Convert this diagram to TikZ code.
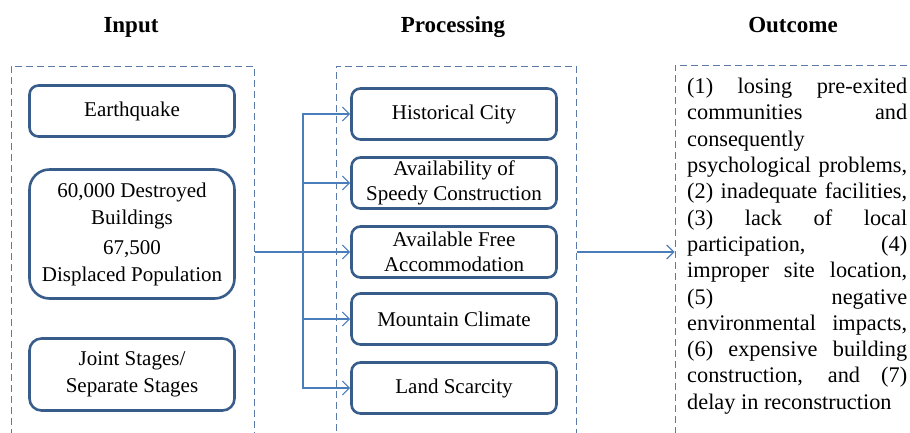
\documentclass[tikz,border=0pt]{standalone}
\usepackage{fontspec}
\setmainfont{Liberation Serif}
\usetikzlibrary{arrows.meta}
\definecolor{boxblue}{RGB}{56,93,138}
\definecolor{linkblue}{RGB}{74,126,187}
\definecolor{frameblue}{RGB}{92,122,166}
\begin{document}
\begin{tikzpicture}[x=1pt,y=-1pt]

    \tikzset{
      frame/.style={
        draw=frameblue,
        dash pattern=on 7pt off 4pt,
        line width=1pt,
        inner sep=0pt,
      },
      box/.style={
        draw=boxblue,
        line width=2.6pt,
        rounded corners=9pt,
        minimum width=205pt,
        minimum height=51pt,
        inner sep=0pt,
        align=center,
        font=\fontsize{21}{25}\selectfont,
      },
      link/.style={
        draw=linkblue,
        line width=1.1pt,
        -{Straight Barb[length=7pt,width=14pt]},
      },
      heading/.style={
        anchor=base,
        font=\fontsize{23}{27}\selectfont\bfseries,
      },
    }
    \useasboundingbox (0,0) rectangle (910,432);
    \clip (0,0) rectangle (910,432);

    \node[heading] (intitle) at (131,32) {Input};
    \node[heading] (proctitle) at (453,32) {Processing};
    \node[heading] (outtitle) at (793,32) {Outcome};

    \node[frame, minimum width=243pt, minimum height=372pt] (inframe) at (132.5,252) {};
    \node[frame, minimum width=240pt, minimum height=372pt] (procframe) at (456,252) {};
    \node[frame, minimum width=270pt, minimum height=374pt] (outframe) at (810,252) {};

    \node[box] (quake) at (132,111) {Earthquake};
    \node[box, minimum height=129pt, rounded corners=20pt, font=\fontsize{21}{27}\selectfont] (loss) at (132,234) {60,000 Destroyed\\Buildings\\[3pt]67,500\\Displaced\ Population};
    \node[box, minimum height=72pt, rounded corners=12pt, font=\fontsize{21}{27}\selectfont] (stages) at (132,374.5) {Joint Stages/\\Separate Stages};

    \node[box] (hist) at (454,114) {Historical City};
    \node[box] (speedy) at (454,183) {Availability of\\Speedy Construction};
    \node[box] (freeacc) at (454,252) {Available Free\\Accommodation};
    \node[box] (climate) at (454,319) {Mountain Climate};
    \node[box] (scarcity) at (454,388) {Land Scarcity};

    \node[anchor=north west, inner sep=0pt, align=left, font=\fontsize{22.3}{26.3}\selectfont] (effects) at (687,78) {%
      \makebox[220pt][s]{(1) losing pre-exited}\\
      \makebox[220pt][s]{communities and}\\
      consequently\\
      \makebox[220pt][s]{psychological problems,}\\
      \makebox[220pt][s]{(2) inadequate facilities,}\\
      \makebox[220pt][s]{(3) lack of local}\\
      \makebox[220pt][s]{participation, (4)}\\
      \makebox[220pt][s]{improper site location,}\\
      \makebox[220pt][s]{(5) negative}\\
      \makebox[220pt][s]{environmental impacts,}\\
      \makebox[220pt][s]{(6) expensive building}\\
      \makebox[220pt][s]{construction, and (7)}\\
      delay in reconstruction};

    \coordinate (fork) at (303,252);
    \draw[link] (inframe.east) -- (freeacc.west);
    \foreach \b in {hist,speedy,climate,scarcity}
      \draw[link] (fork) |- (\b.west);
    \draw[link] (procframe.east) -- (outframe.west);

\end{tikzpicture}
\end{document}
